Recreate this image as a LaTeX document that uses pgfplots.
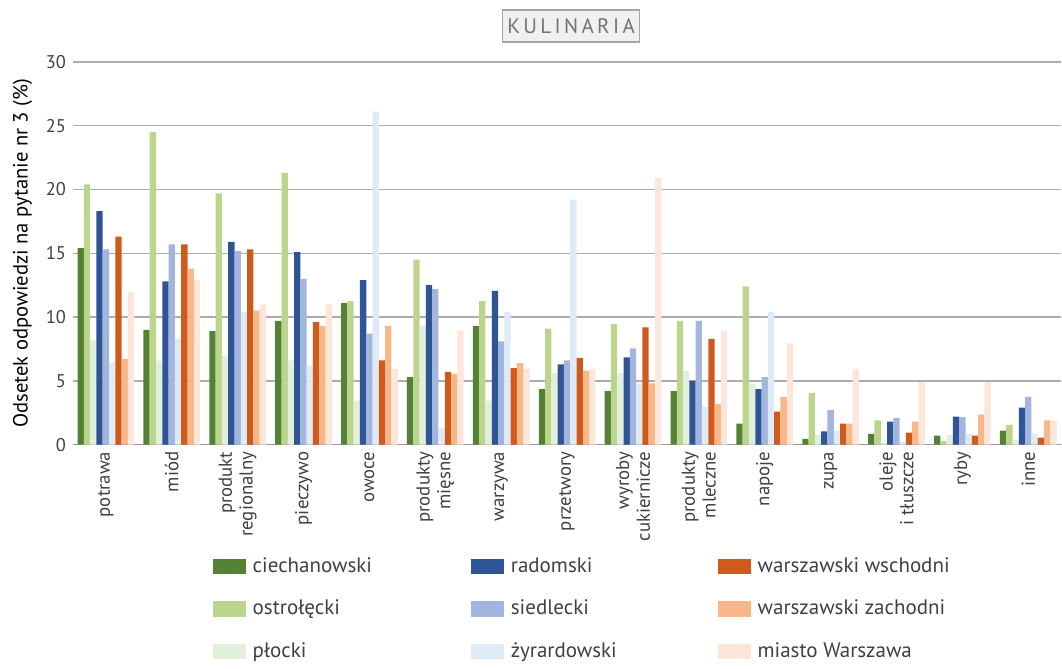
\documentclass[border=0pt]{standalone}
\usepackage{fontspec}
\setmainfont{PT Sans}
\newfontfamily\spaced[LetterSpace=16]{PT Sans}
\usepackage{pgfplots}
\usepackage{pgfplotstable}
\pgfplotsset{compat=1.18}

\definecolor{cC}{HTML}{548235}
\definecolor{cO}{HTML}{BBD68C}
\definecolor{cP}{HTML}{E2EFDA}
\definecolor{cR}{HTML}{2F5597}
\definecolor{cS}{HTML}{A2B5DE}
\definecolor{cZ}{HTML}{DEEBF7}
\definecolor{cWW}{HTML}{D05A1A}
\definecolor{cWZ}{HTML}{F7B788}
\definecolor{cMW}{HTML}{FCE6DA}
\definecolor{txt}{HTML}{404040}

% x c o p r s z ww wz mw
\pgfplotstableread{
x  c     o     p     r     s     z     ww    wz    mw
0  15.4  20.4  8.2   18.3  15.3  6.4   16.3  6.7   12.0
1  9.0   24.5  6.6   12.8  15.7  8.3   15.7  13.8  12.9
2  8.9   19.7  7.0   15.9  15.2  10.4  15.3  10.5  11.0
3  9.7   21.3  6.6   15.1  13.0  6.2   9.6   9.3   11.0
4  11.1  11.25 3.45  12.9  8.7   26.1  6.6   9.3   5.95
5  5.3   14.5  9.3   12.5  12.2  1.3   5.7   5.55  8.95
6  9.3   11.25 3.45  12.05 8.1   10.4  6.0   6.4   5.95
7  4.35  9.1   5.6   6.3   6.6   19.2  6.8   5.8   5.95
8  4.2   9.45  5.6   6.85  7.55  4.8   9.2   4.8   20.9
9  4.2   9.7   5.8   5.0   9.7   3.0   8.3   3.2   8.95
10 1.65  12.4  4.8   4.35  5.3   10.4  2.6   3.75  7.95
11 0.45  4.05  0.8   1.05  2.7   1.1   1.65  1.65  5.95
12 0.85  1.9   0.15  1.8   2.1   0.2   0.95  1.8   4.9
13 0.7   0.3   0.75  2.2   2.15  0.85  0.7   2.35  4.9
14 1.1   1.55  0.35  2.9   3.75  0.85  0.55  1.9   1.9
}\kulinaria

\pgfplotsset{
  swatch/.style={legend image code/.code={
    \fill[##1, draw=none] (0pt,-3.8pt) rectangle (16.5pt,3.8pt);}},
  bars/.style={fill=#1, draw=none, forget plot},
}

\begin{document}
\begin{tikzpicture}
\begin{axis}[
  name=ax,
  width=494.5pt, height=191.5pt,
  scale only axis,
  ybar, bar width=3.15pt,
  xmin=-0.5, xmax=14.5,
  ymin=0, ymax=30,
  ytick={0,5,...,30},
  xtick={0,...,14},
  xticklabels={potrawa, miód, {produkt\\regionalny}, pieczywo, owoce,
    {produkty\\mięsne}, warzywa, przetwory, {wyroby\\cukiernicze},
    {produkty\\mleczne}, napoje, zupa, {oleje\\i tłuszcze}, ryby, inne},
  xticklabel style={rotate=90, anchor=east, align=right, font=\fontsize{9.4}{10.4}\selectfont, text=txt},
  yticklabel style={font=\fontsize{9.2}{10}\selectfont, text=txt},
  /pgf/number format/assume math mode=true,
  major tick length=0pt,
  axis x line*=bottom,
  axis y line*=left,
  y axis line style={draw=none},
  x axis line style={draw=gray!80, line width=0.8pt, -},
  ymajorgrids, grid style={draw=gray!65, line width=0.7pt},
  ylabel={Odsetek odpowiedzi na pytanie nr 3 (\%)},
  ylabel style={font=\fontsize{10.3}{12}\selectfont, text=black},
  legend columns=3,
  legend cell align=left,
  legend style={draw=none, at={(axis description cs:0.135,-0.272)}, anchor=north west,
    font=\fontsize{10.5}{12}\selectfont, text=txt,
    /tikz/column 1/.style={column sep=1.5pt},
    /tikz/column 2/.style={column sep=47.5pt},
    /tikz/column 3/.style={column sep=1.5pt},
    /tikz/column 4/.style={column sep=48.5pt},
    /tikz/column 5/.style={column sep=1.5pt},
    row sep=8.5pt},
  clip=false,
]
\addplot[bars=cC,  bar shift=-12.6pt] table[x=x, y=c] {\kulinaria};
\addplot[bars=cO,  bar shift=-9.45pt] table[x=x, y=o] {\kulinaria};
\addplot[bars=cP,  bar shift=-6.3pt]  table[x=x, y=p] {\kulinaria};
\addplot[bars=cR,  bar shift=-3.15pt] table[x=x, y=r] {\kulinaria};
\addplot[bars=cS,  bar shift=0pt]     table[x=x, y=s] {\kulinaria};
\addplot[bars=cZ,  bar shift=3.15pt]  table[x=x, y=z] {\kulinaria};
\addplot[bars=cWW, bar shift=6.3pt]   table[x=x, y=ww] {\kulinaria};
\addplot[bars=cWZ, bar shift=9.45pt]  table[x=x, y=wz] {\kulinaria};
\addplot[bars=cMW, bar shift=12.6pt]  table[x=x, y=mw] {\kulinaria};
\addlegendimage{swatch, fill=cC}\addlegendentry{ciechanowski}
\addlegendimage{swatch, fill=cR}\addlegendentry{radomski}
\addlegendimage{swatch, fill=cWW}\addlegendentry{warszawski wschodni}
\addlegendimage{swatch, fill=cO}\addlegendentry{ostrołęcki}
\addlegendimage{swatch, fill=cS}\addlegendentry{siedlecki}
\addlegendimage{swatch, fill=cWZ}\addlegendentry{warszawski zachodni}
\addlegendimage{swatch, fill=cP}\addlegendentry{płocki}
\addlegendimage{swatch, fill=cZ}\addlegendentry{żyrardowski}
\addlegendimage{swatch, fill=cMW}\addlegendentry{miasto Warszawa}
\node[draw=gray!70, fill=gray!12, line width=0.6pt, inner xsep=2.5pt, inner ysep=0pt,
  minimum height=16pt, text=gray!90!black, font=\fontsize{10.5}{12}\selectfont\spaced]
  at (axis description cs:0.504,1.094) {KULINARIA};
\end{axis}
\path ([xshift=-36.5pt, yshift=-108.5pt]ax.south west) rectangle ([yshift=31pt]ax.north east);
\end{tikzpicture}
\end{document}
